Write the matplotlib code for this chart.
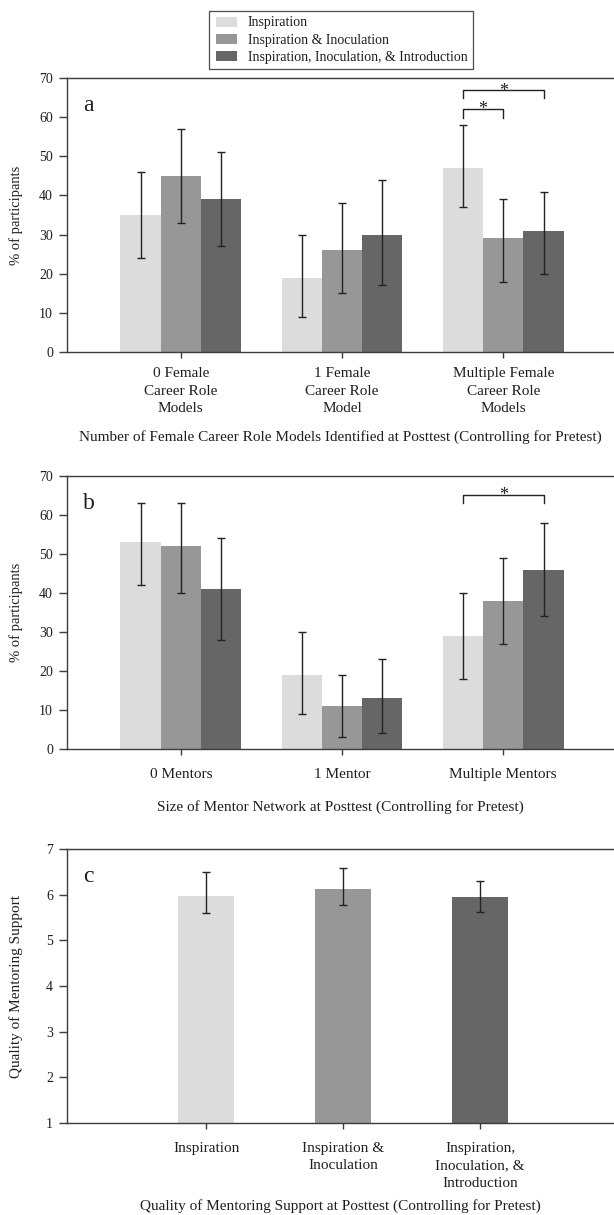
import numpy as np
import matplotlib
matplotlib.use("Agg")
import matplotlib.pyplot as plt
from matplotlib.patches import Patch, Rectangle
from matplotlib.legend_handler import HandlerPatch

# ---------------------------------------------------------------
# Data
# ---------------------------------------------------------------
conditions = ["Inspiration", "Inspiration & Inoculation",
              "Inspiration, Inoculation, & Introduction"]
colors = ["#dcdcdc", "#979797", "#666666"]

# Panel a: number of female career role models
a_categories = ["0 Female\nCareer Role\nModels", "1 Female\nCareer Role\nModel",
                "Multiple Female\nCareer Role\nModels"]
a_values = [[35, 19, 47], [45, 26, 29], [39, 30, 31]]
a_lower = [[24, 9, 37], [33, 15, 18], [27, 17, 20]]
a_upper = [[46, 30, 58], [57, 38, 39], [51, 44, 41]]

# Panel b: size of mentor network
b_categories = ["0 Mentors", "1 Mentor", "Multiple Mentors"]
b_values = [[53, 19, 29], [52, 11, 38], [41, 13, 46]]
b_lower = [[42, 9, 18], [40, 3, 27], [28, 4, 34]]
b_upper = [[63, 30, 40], [63, 19, 49], [54, 23, 58]]

# Panel c: quality of mentoring support
c_categories = ["Inspiration", "Inspiration &\nInoculation",
                "Inspiration,\nInoculation, &\nIntroduction"]
c_values = [5.98, 6.13, 5.94]
c_lower = [5.59, 5.77, 5.63]
c_upper = [6.50, 6.59, 6.31]

plt.rcParams['font.family'] = ['Liberation Serif', 'DejaVu Serif']
text_color = "#1e1e1e"
spine_color = "#3c3c3c"

fig = plt.figure(figsize=(6.14, 12.15), dpi=100)


def style_axes(ax, xpad):
    ax.spines['right'].set_visible(False)
    for s in ['left', 'top', 'bottom']:
        ax.spines[s].set_color(spine_color)
        ax.spines[s].set_linewidth(1.0)
    ax.tick_params(axis='y', direction='out', length=6, width=1, pad=4,
                   color=spine_color, labelcolor=text_color, labelsize=10)
    ax.tick_params(axis='x', direction='out', length=4, width=1, pad=xpad,
                   color=spine_color, labelcolor=text_color, labelsize=11)


def bracket(ax, x1, x2, y, drop):
    ax.plot([x1, x1, x2, x2], [y - drop, y, y, y - drop], color="#222222", lw=1)
    ax.annotate("*", xy=((x1 + x2) / 2, y), xytext=(0, -4),
                textcoords='offset points', ha='center', va='baseline',
                fontsize=13, color=text_color)


def grouped_panel(ax, categories, values, lower, upper, xlabel, letter,
                  xpad, lpad):
    x = np.arange(len(categories))
    width = 0.25
    for i in range(3):
        vals = np.array(values[i])
        err = [vals - np.array(lower[i]), np.array(upper[i]) - vals]
        ax.bar(x + (i - 1) * width, vals, width, color=colors[i], zorder=2)
        ax.errorbar(x + (i - 1) * width, vals, yerr=err, fmt='none',
                    ecolor="#222222", elinewidth=1, capsize=3, capthick=1,
                    zorder=3)
    ax.set_xlim(-0.706, 2.687)
    ax.set_ylim(0, 70)
    ax.set_yticks(range(0, 71, 10))
    ax.set_xticks(x)
    ax.set_xticklabels(categories, linespacing=1.44)
    ax.set_ylabel("% of participants", color=text_color, fontsize=10.5)
    ax.set_xlabel(xlabel, color=text_color, fontsize=11, labelpad=lpad)
    ax.text(0.029, 0.9, letter, transform=ax.transAxes, fontsize=17,
            va='center', ha='left', color=text_color)
    style_axes(ax, xpad)


# Panel a
ax_a = fig.add_axes([0.1091, 0.7103, 0.8909, 0.2255])
grouped_panel(ax_a, a_categories, a_values, a_lower, a_upper,
              "Number of Female Career Role Models Identified at Posttest (Controlling for Pretest)",
              "a", 7, 11)
bracket(ax_a, 2 - 0.25, 2.25, 66.9, 2.0)
bracket(ax_a, 2 - 0.25, 2.0, 62.1, 2.3)

# Panel b
ax_b = fig.add_axes([0.1091, 0.3835, 0.8909, 0.2247])
grouped_panel(ax_b, b_categories, b_values, b_lower, b_upper,
              "Size of Mentor Network at Posttest (Controlling for Pretest)", "b",
              9.5, 14)
bracket(ax_b, 2 - 0.25, 2.25, 65.2, 2.2)

# Panel c
ax_c = fig.add_axes([0.1091, 0.0757, 0.8909, 0.2255])
xc = np.arange(len(c_categories))
cv = np.array(c_values)
ax_c.bar(xc, cv - 1, 0.41, bottom=1, color=colors, zorder=2)
ax_c.errorbar(xc, cv, yerr=[cv - np.array(c_lower), np.array(c_upper) - cv],
              fmt='none', ecolor="#222222", elinewidth=1, capsize=3,
              capthick=1, zorder=3)
ax_c.set_xlim(-1.018, 2.977)
ax_c.set_ylim(1, 7)
ax_c.set_yticks(range(1, 8))
ax_c.set_xticks(xc)
ax_c.set_xticklabels(c_categories, linespacing=1.44)
ax_c.set_ylabel("Quality of Mentoring Support", color=text_color, fontsize=11)
ax_c.set_xlabel("Quality of Mentoring Support at Posttest (Controlling for Pretest)",
                color=text_color, fontsize=11, labelpad=7)
ax_c.text(0.029, 0.9, "c", transform=ax_c.transAxes, fontsize=17,
          va='center', ha='left', color=text_color)
style_axes(ax_c, 9.5)

for ax in [ax_a, ax_b, ax_c]:
    ax.yaxis.set_label_coords(-0.08, 0.5)


# Shared legend at the top: square swatches sit at the right end of the handle box
def swatch(legend, orig_handle, xdescent, ydescent, width, height, fontsize):
    w = 15
    return Rectangle((-xdescent + width - w, -ydescent), w, height)


handles = [Patch(facecolor=c, edgecolor='none') for c in colors]
leg = fig.legend(handles, conditions, loc='upper center',
                 bbox_to_anchor=(0.5554, 0.991), frameon=True, fancybox=False,
                 handlelength=1.61, handleheight=0.72, handletextpad=0.8,
                 borderpad=0.4, borderaxespad=0, labelspacing=0.3, fontsize=10,
                 handler_map={Patch: HandlerPatch(patch_func=swatch)})
leg.get_frame().set_edgecolor("#222222")
leg.get_frame().set_linewidth(0.9)
for t in leg.get_texts():
    t.set_color(text_color)

fig.savefig("out.png", dpi=100)
